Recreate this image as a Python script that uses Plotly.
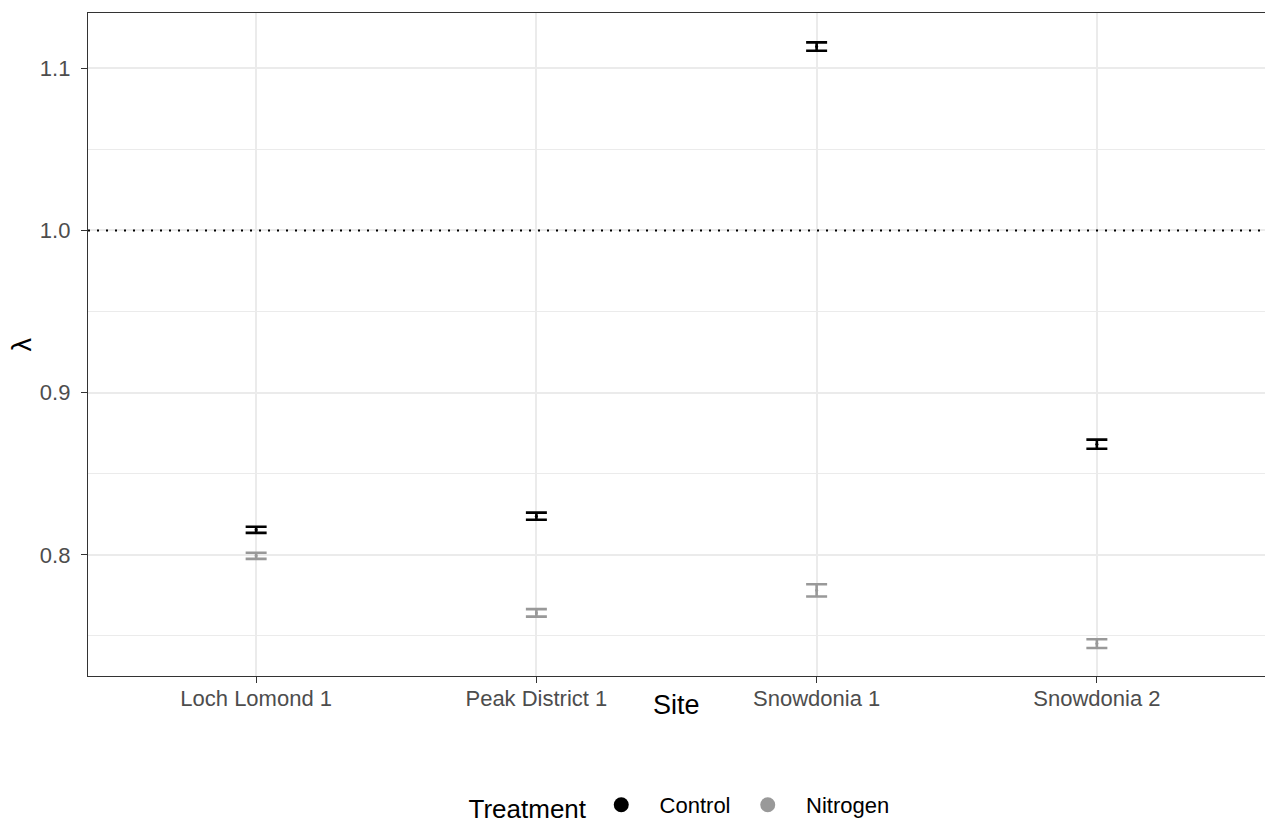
import plotly.graph_objects as go

sites = ["Loch Lomond 1", "Peak District 1", "Snowdonia 1", "Snowdonia 2"]
control_mean = [0.8154, 0.8238, 1.1133, 0.8682]
control_err = [0.0019, 0.0022, 0.0026, 0.0028]
nitrogen_mean = [0.7994, 0.7642, 0.7781, 0.7453]
nitrogen_err = [0.0019, 0.0023, 0.0038, 0.0027]
colors = {"Control": "#000000", "Nitrogen": "#999999"}

W, H = 1265, 823
L, R, T, B = 88, 0, 13, 147
plot_h = H - T - B
NB = "\u00a0"

fig = go.Figure()
for name, mean, err in [("Control", control_mean, control_err),
                        ("Nitrogen", nitrogen_mean, nitrogen_err)]:
    fig.add_trace(go.Scatter(
        x=sites, y=mean, mode="markers", showlegend=False,
        marker=dict(color=colors[name], size=3),
        error_y=dict(type="data", array=err, visible=True, color=colors[name],
                     thickness=2.6, width=10.5),
    ))
    fig.add_trace(go.Scatter(
        x=[None], y=[None], mode="markers", name=NB * 3 + name + NB * 2,
        marker=dict(color=colors[name], size=15),
    ))

fig.add_shape(type="line", xref="paper", yref="y", x0=0, x1=1, y0=1.0, y1=1.0,
              line=dict(color="black", width=2, dash="2px,7px"), layer="above")

fig.add_annotation(text="Site", xref="paper", yref="paper", x=0.5, y=0,
                   xanchor="center", yanchor="middle", yshift=-(705 - (H - B)),
                   showarrow=False, font=dict(size=27, color="black"))
fig.add_annotation(text="λ", xref="paper", yref="paper", x=0, y=0.5,
                   xanchor="center", yanchor="middle", xshift=21 - L,
                   textangle=-90, showarrow=False, font=dict(size=27, color="black"))

fig.update_layout(
    width=W, height=H,
    margin=dict(l=L, r=R, t=T, b=B, autoexpand=False),
    plot_bgcolor="white", paper_bgcolor="white",
    font=dict(family="Liberation Sans, Arial, sans-serif", color="#4d4d4d"),
    legend=dict(orientation="h", x=0.5085, xanchor="center",
                y=-(806 - (H - B)) / plot_h, yanchor="middle",
                title=dict(text="Treatment ", side="left",
                           font=dict(size=26, color="black")),
                font=dict(size=22, color="black"), itemwidth=30),
)
fig.update_xaxes(
    range=[-0.6, 3.6], showline=True, linecolor="#333333", linewidth=1.3, mirror=True,
    showgrid=True, gridcolor="#ebebeb", gridwidth=2,
    ticks="outside", tickcolor="#333333", ticklen=6, tickwidth=1.3,
    tickfont=dict(size=22, color="#4d4d4d"), ticklabelstandoff=-4,
    zeroline=False,
)
fig.update_yaxes(
    range=[0.7253, 1.134], showline=True, linecolor="#333333", linewidth=1.3, mirror=True,
    tickvals=[0.8, 0.9, 1.0, 1.1], ticktext=["0.8", "0.9", "1.0", "1.1"],
    showgrid=True, gridcolor="#ebebeb", gridwidth=2,
    minor=dict(tickvals=[0.75, 0.85, 0.95, 1.05], showgrid=True, gridcolor="#ebebeb",
               gridwidth=1, ticks=""),
    ticks="outside", tickcolor="#333333", ticklen=6, tickwidth=1.3,
    tickfont=dict(size=22, color="#4d4d4d"), ticklabelstandoff=6,
    zeroline=False,
)

fig.write_html(
    "out.html",
    config={"displayModeBar": False},
    post_script="document.body.style.margin='0';document.body.style.overflow='hidden';",
)
